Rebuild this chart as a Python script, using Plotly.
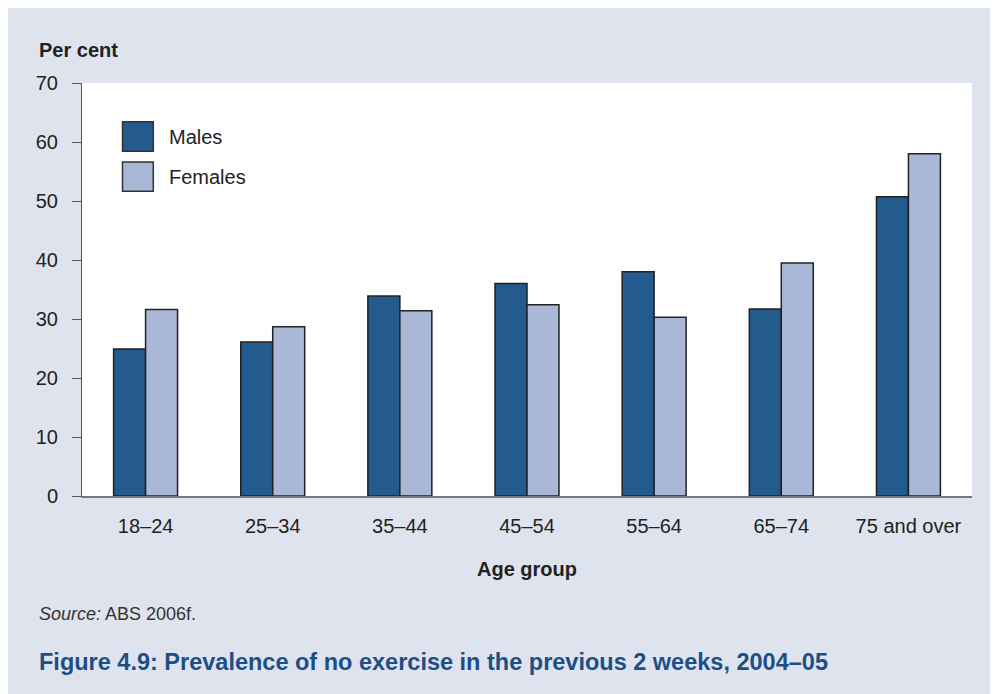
import plotly.graph_objects as go

age_groups = ["18–24", "25–34", "35–44", "45–54", "55–64", "65–74", "75 and over"]
males = [24.9, 26.1, 33.9, 36.0, 38.0, 31.7, 50.7]
females = [31.6, 28.7, 31.4, 32.4, 30.3, 39.5, 58.0]
series_names = ["Males", "Females"]
series_colors = ["#235b8f", "#a9b8d6"]
y_ticks = [0, 10, 20, 30, 40, 50, 60, 70]

BG = "#dfe3ee"
FONT = "Liberation Sans, Arial, sans-serif"
TEXT = "#222222"

fig = go.Figure()
for name, values, color in zip(series_names, [males, females], series_colors):
    fig.add_trace(
        go.Bar(
            x=age_groups,
            y=values,
            name=name,
            marker={"color": color, "line": {"color": "#222222", "width": 1.5}},
            showlegend=False,
        )
    )

# legend drawn as large swatches
for i, (name, color) in enumerate(zip(series_names, series_colors)):
    top = 0.906 - i * 0.097
    fig.add_shape(type="rect", xref="paper", yref="paper", x0=0.0455, x1=0.0801,
                  y0=top - 0.071, y1=top, fillcolor=color,
                  line={"color": "#333333", "width": 1.5})
    fig.add_annotation(x=0.0952, y=top - 0.036, xref="paper", yref="paper", text=name,
                       showarrow=False, xanchor="left", yanchor="middle",
                       font={"size": 20, "color": TEXT})

fig.add_annotation(x=-0.0502, y=1.08, xref="paper", yref="paper", text="<b>Per cent</b>",
                   showarrow=False, xanchor="left", yanchor="middle",
                   font={"size": 20, "color": TEXT})
fig.add_annotation(x=0.5, y=-0.177, xref="paper", yref="paper", text="<b>Age group</b>",
                   showarrow=False, xanchor="center", yanchor="middle",
                   font={"size": 20, "color": TEXT})
fig.add_annotation(x=-0.0506, y=-0.2857, xref="paper", yref="paper",
                   text="<i>Source:</i> ABS 2006f.", showarrow=False,
                   xanchor="left", yanchor="middle",
                   font={"size": 18, "color": "#333333"})
fig.add_annotation(x=-0.0506, y=-0.402, xref="paper", yref="paper",
                   text="<b>Figure 4.9: Prevalence of no exercise in the previous 2 weeks, 2004–05</b>",
                   showarrow=False, xanchor="left", yanchor="middle",
                   font={"size": 23.5, "color": "#1d4f87"})

fig.update_layout(
    width=990,
    height=686,
    margin={"l": 74, "r": 26, "t": 75, "b": 198},
    paper_bgcolor=BG,
    plot_bgcolor="white",
    font={"family": FONT, "size": 20, "color": TEXT},
    barmode="group",
    bargap=0.497,
    bargroupgap=0,
    xaxis={
        "showline": True,
        "linecolor": "#777777",
        "linewidth": 2,
        "ticks": "",
        "ticklabelstandoff": 11,
        "showgrid": False,
        "range": [-0.5, 6.5],
    },
    yaxis={
        "range": [0, 70],
        "tickvals": y_ticks,
        "showline": True,
        "linecolor": "#555555",
        "linewidth": 1,
        "ticks": "outside",
        "ticklen": 9,
        "tickcolor": "#555555",
        "ticklabelstandoff": 10,
        "showgrid": False,
        "zeroline": False,
    },
)

fig.write_html("out.html")
